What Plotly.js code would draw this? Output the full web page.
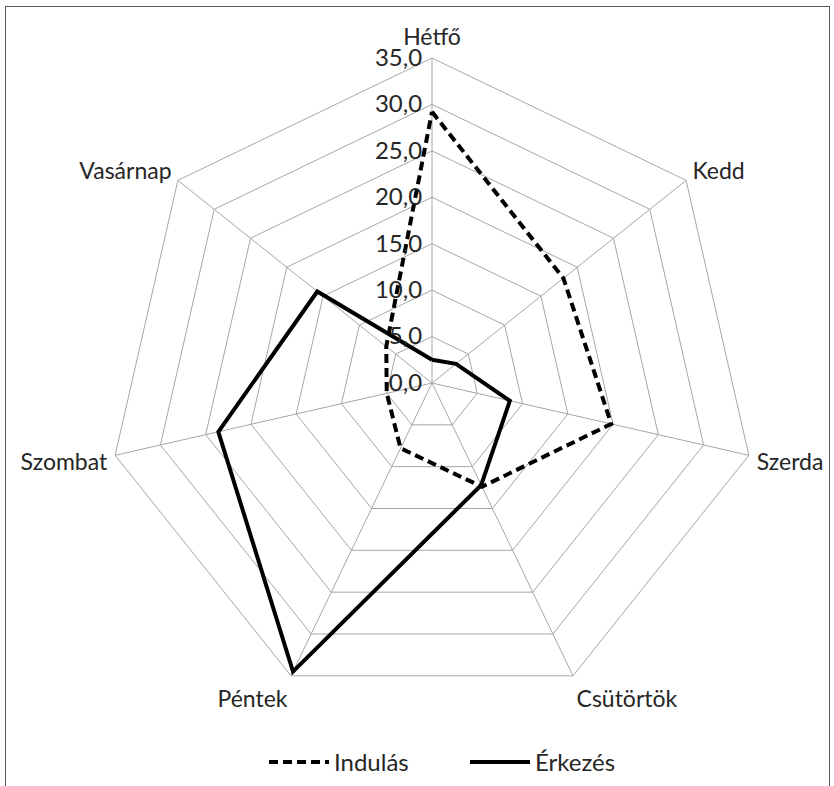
<!DOCTYPE html>
<html>
<head>
<meta charset="utf-8">
<script src="https://cdn.plot.ly/plotly-3.0.1.min.js"></script>
<style>
  html, body { margin: 0; padding: 0; background: #fff; }
  #wrap { position: relative; width: 834px; height: 786px; overflow: hidden; }
  #chart { width: 834px; height: 786px; }
  #frame { position: absolute; left: 5px; top: 6px; width: 823px; height: 820px;
           border: 1px solid #5a5a5a; pointer-events: none; }
</style>
</head>
<body>
<div id="wrap">
  <div id="chart"></div>
  <div id="frame"></div>
</div>
<script>
// Categories (days of the week, Hungarian)
const days = ["Hétfő", "Kedd", "Szerda", "Csütörtök", "Péntek", "Szombat", "Vasárnap"];
// Series values
const indulas = [29.2, 18.1, 19.8, 12.4, 7.8, 5.0, 6.3];
const erkezes = [2.5, 3.3, 8.6, 12.2, 34.5, 23.6, 15.8];
// Radial tick values
const radialTicks = [0, 5, 10, 15, 20, 25, 30, 35];

function closeLoop(arr) { return arr.concat([arr[0]]); }

const traces = [
  {
    type: "scatterpolar",
    r: closeLoop(indulas),
    theta: closeLoop(days),
    mode: "lines",
    name: "Indulás",
    line: { color: "#000000", width: 4, dash: "9px,5px" }
  },
  {
    type: "scatterpolar",
    r: closeLoop(erkezes),
    theta: closeLoop(days),
    mode: "lines",
    name: "Érkezés",
    line: { color: "#000000", width: 4 }
  }
];

const fontFam = "Lato, 'Open Sans', sans-serif";
const txtColor = "#262626";

const layout = {
  width: 834,
  height: 786,
  margin: { l: 107, r: 77, t: 58, b: 78 },
  paper_bgcolor: "#ffffff",
  separators: ",.",
  font: { family: fontFam, size: 24, color: txtColor },
  showlegend: true,
  legend: {
    orientation: "h",
    x: 264 / 834, xanchor: "left", xref: "container",
    y: 0.03, yanchor: "middle", yref: "container",
    font: { family: fontFam, size: 24, color: txtColor },
    itemwidth: 60,
    entrywidth: 126,
    tracegroupgap: 0
  },
  polar: {
    bgcolor: "rgba(0,0,0,0)",
    gridshape: "linear",
    angularaxis: {
      type: "category",
      rotation: 90,
      direction: "clockwise",
      showline: true,
      linecolor: "#a6a6a6",
      linewidth: 1,
      showgrid: true,
      gridcolor: "#a6a6a6",
      gridwidth: 1,
      ticks: "outside",
      ticklen: 3,
      tickcolor: "rgba(0,0,0,0)",
      tickfont: { family: fontFam, size: 23, color: txtColor }
    },
    radialaxis: {
      range: [0, 35],
      tickvals: radialTicks,
      tickformat: ".1f",
      angle: 90,
      tickangle: 90,
      side: "counterclockwise",
      showline: false,
      showgrid: true,
      gridcolor: "#a6a6a6",
      gridwidth: 1,
      ticks: "outside",
      ticklen: 1,
      tickcolor: "rgba(0,0,0,0)",
      tickfont: { family: fontFam, size: 24, color: txtColor }
    }
  }
};

Plotly.newPlot("chart", traces, layout, { displayModeBar: false, staticPlot: true });
</script>
</body>
</html>
